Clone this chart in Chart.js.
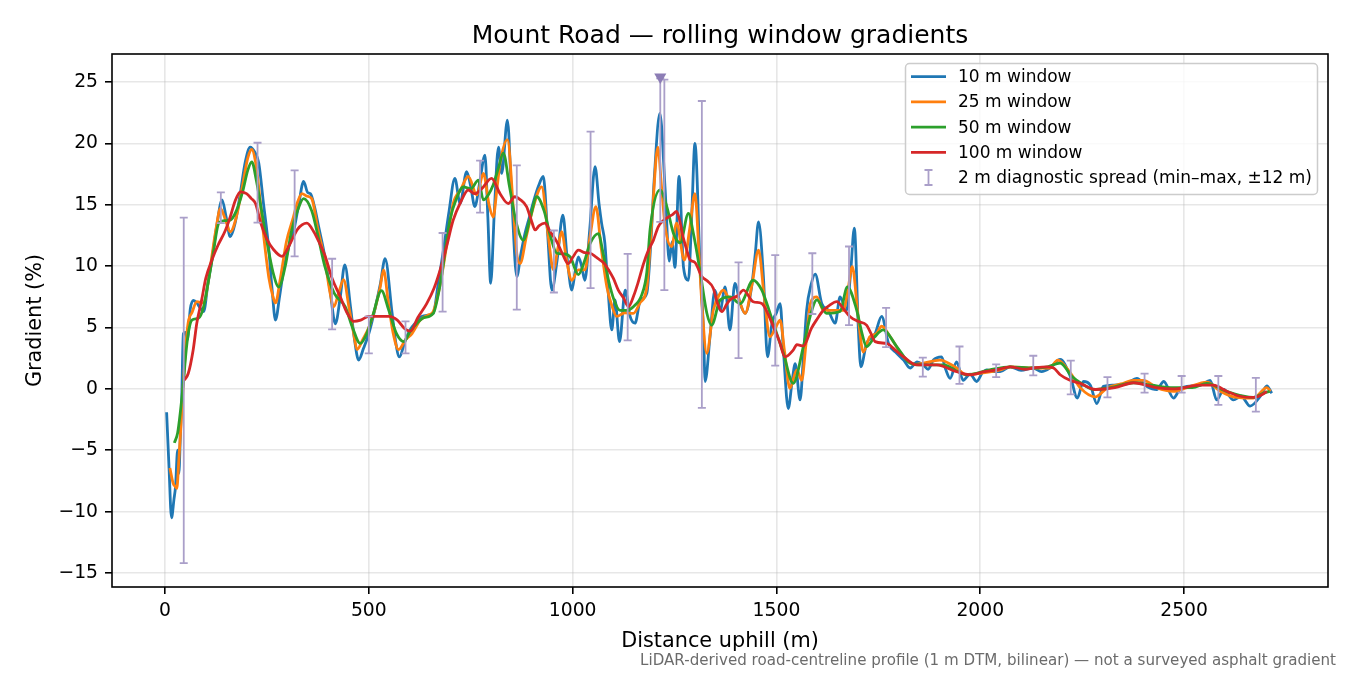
<!DOCTYPE html>
<html>
<head>
<meta charset="utf-8">
<title>Mount Road — rolling window gradients</title>
<script src="https://cdn.jsdelivr.net/npm/chart.js@4.4.1/dist/chart.umd.min.js"></script>
<style>
    body { margin: 0; background: #fff; }
    canvas { display: block; }
</style>
</head>
<body>
<canvas id="gradChart" width="1350" height="675"></canvas>
<script>
// ===== DATA =====
// distance uphill (m) and gradient (%) per rolling window
const dist10 = [4,10,16,22,26,31,34,38,41,45,50,55,62,70,78,86,95,105,115,128,140,150,160,172,185,197,209,220,230,242,254,263,271,281,291,303,316,328,340,350,357,367,377,392,405,418,430,441,455,465,475,487,500,515,528,540,557,566,575,588,601,615,630,645,658,670,683,697,711,724,740,750,760,772,785,792,799,808,818,826,840,850,863,873,883,894,904,916,928,938,949,962,976,987,998,1006,1014,1022,1030,1042,1055,1065,1071,1079,1087,1096,1104,1115,1129,1141,1153,1166,1182,1192,1200,1214,1227,1237,1244,1251,1261,1272,1284,1292,1300,1313,1321,1325,1337,1349,1362,1374,1386,1398,1411,1423,1439,1448,1456,1468,1478,1489,1500,1509,1517,1529,1538,1546,1558,1566,1574,1585,1595,1611,1627,1644,1656,1672,1682,1691,1701,1707,1721,1742,1758,1775,1795,1812,1828,1845,1860,1872,1885,1905,1915,1926,1942,1958,1975,1991,2005,2016,2030,2049,2073,2100,2130,2150,2171,2196,2221,2238,2253,2270,2286,2302,2327,2360,2384,2409,2433,2450,2474,2490,2507,2540,2564,2580,2597,2621,2640,2662,2687,2703,2715];
const grad10 = [-1.9,-6.5,-10.5,-9.0,-7.9,-5.0,-6.9,-3.5,-0.9,4.5,4.6,4.0,6.5,7.2,7.0,6.6,6.3,8.5,10.5,13.5,15.4,14.0,12.4,13.5,16.0,18.5,19.7,19.3,18.4,15.0,11.6,8.0,5.6,7.5,9.7,11.5,12.9,15.0,16.9,16.0,15.9,14.8,13.2,10.8,8.0,5.3,7.5,10.1,6.7,4.0,2.35,3.3,4.5,6.5,8.5,10.6,6.2,3.8,2.6,3.8,4.8,5.4,5.9,6.0,6.15,8.5,11.3,14.5,17.15,15.1,17.7,16.5,14.85,16.8,19.05,14.0,8.6,14.5,19.7,17.55,21.9,16.0,9.15,11.0,12.65,14.0,15.25,16.5,17.3,13.0,8.05,10.5,14.15,10.5,8.05,9.5,10.75,10.0,8.85,13.0,18.1,15.0,13.5,11.9,8.0,4.8,7.25,3.85,8.05,5.9,5.35,7.2,7.8,12.0,17.0,22.45,16.2,10.4,12.0,9.9,17.3,9.9,8.85,14.0,20.0,9.7,4.8,0.6,4.25,8.05,6.4,8.3,4.8,8.6,6.95,6.15,8.3,11.0,13.6,9.15,2.6,5.35,6.2,6.95,3.15,-1.6,0.5,2.05,-0.9,2.5,6.4,8.5,9.35,6.95,6.4,5.35,7.5,6.4,9.5,13.1,4.8,1.8,3.7,4.5,5.9,3.7,2.9,2.35,1.7,2.2,1.95,1.6,2.35,2.6,1.6,0.85,2.2,0.7,1.2,0.6,1.3,1.55,1.4,1.4,1.8,1.5,1.7,1.4,1.7,2.4,1.0,-0.75,0.6,0.3,-1.2,0.2,0.3,0.45,0.85,0.2,-0.05,0.6,-0.75,0.0,0.2,0.3,0.7,-0.9,-0.05,-0.9,-0.6,-1.4,-0.6,0.25,-0.35];

const dist25 = [12,20,25,29,34,40,45,53,58,66,78,95,105,115,125,136,148,160,175,190,203,213,222,230,242,255,265,271,283,298,315,325,336,348,360,375,392,404,414,426,438,452,463,471,485,500,515,528,536,548,560,573,590,606,626,645,658,675,690,707,725,744,765,781,795,805,815,822,840,855,863,871,887,904,924,940,953,964,973,985,998,1014,1030,1043,1057,1070,1084,1096,1108,1128,1149,1165,1182,1195,1209,1218,1227,1243,1255,1274,1287,1300,1310,1317,1329,1345,1362,1370,1386,1403,1423,1440,1456,1470,1484,1498,1509,1520,1533,1550,1562,1572,1583,1599,1615,1648,1664,1675,1686,1700,1713,1729,1745,1758,1779,1812,1840,1860,1901,1942,1966,2007,2049,2073,2130,2170,2190,2221,2245,2282,2312,2345,2376,2400,2433,2474,2507,2556,2589,2621,2670,2703,2712];
const grad25 = [-6.45,-7.7,-7.95,-8.1,-5.8,-2.5,0.45,4.25,5.6,6.2,7.1,7.0,8.5,10.8,13.0,14.7,13.8,12.8,14.0,16.5,18.8,19.5,18.5,16.4,12.5,9.0,7.5,7.0,9.0,12.0,14.0,15.2,15.9,15.7,15.5,13.0,10.5,8.0,6.7,7.8,8.9,6.5,4.5,3.2,4.0,5.0,6.5,8.3,9.7,7.0,4.5,3.2,4.0,4.5,5.6,6.0,6.3,8.5,11.5,15.1,16.2,17.3,15.8,17.55,15.0,14.0,16.5,18.4,20.3,14.5,11.0,10.2,12.5,14.85,16.45,12.5,9.7,11.5,12.8,10.5,8.85,9.7,9.7,12.5,14.85,11.5,8.3,6.8,5.9,6.2,6.15,7.0,8.3,14.0,19.7,16.5,13.2,11.6,13.5,10.5,13.0,15.9,11.0,6.95,2.9,6.4,7.8,8.05,7.3,7.5,6.15,8.5,11.3,7.5,4.25,5.0,5.6,3.0,0.05,1.55,0.7,3.5,6.95,7.5,6.4,6.4,6.4,8.0,9.95,6.0,3.0,4.25,4.5,5.1,4.25,2.6,2.0,2.1,2.35,1.7,1.15,1.3,1.55,1.8,1.7,1.7,2.35,1.3,0.1,-0.65,0.1,0.4,0.7,0.7,0.1,-0.2,0.1,0.55,-0.2,-0.65,-0.75,0.1,-0.2];

const dist50 = [23,31,38,45,51,57,66,82,94,105,118,132,146,160,175,190,203,213,224,234,250,265,279,295,310,325,340,360,375,392,415,442,460,479,495,510,531,548,568,586,600,618,635,658,675,699,715,732,750,769,781,793,805,818,830,845,862,879,895,912,930,945,961,978,994,1014,1030,1043,1063,1075,1088,1102,1116,1132,1149,1170,1182,1190,1214,1231,1247,1264,1284,1296,1313,1329,1341,1362,1386,1411,1443,1464,1478,1492,1517,1541,1566,1585,1599,1623,1656,1674,1697,1710,1721,1740,1762,1795,1828,1860,1909,1966,2023,2073,2130,2165,2196,2225,2250,2278,2320,2376,2420,2474,2520,2556,2600,2646,2670,2695,2710];
const grad50 = [-4.4,-3.6,-1.8,0.45,2.8,4.5,5.6,5.75,6.6,8.5,11.0,13.5,13.7,13.75,14.5,16.0,17.8,18.5,17.0,15.1,12.0,9.5,8.3,10.0,12.8,14.5,15.5,14.5,12.5,10.0,7.8,6.7,5.0,3.7,4.5,6.0,8.0,6.5,4.5,3.85,4.6,5.35,5.8,6.15,8.5,13.75,15.5,16.45,16.3,17.0,15.4,15.8,16.6,18.0,19.2,16.5,13.5,12.1,13.8,15.65,14.5,12.5,11.05,11.0,10.75,9.3,10.5,11.85,12.65,11.0,8.85,7.2,6.4,6.4,6.7,7.7,9.5,13.0,16.2,14.85,12.7,11.9,14.3,12.7,9.5,6.2,5.2,7.25,7.5,6.95,8.85,8.05,6.8,5.35,2.9,0.45,3.45,6.2,7.25,6.15,6.3,8.3,6.4,4.5,3.45,4.2,4.8,3.45,2.1,1.95,1.95,1.15,1.55,1.8,1.7,1.8,2.1,1.0,0.4,-0.05,0.1,0.5,0.3,0.1,0.1,0.45,-0.15,-0.6,-0.7,-0.35,-0.2];

const dist100 = [47,57,69,78,90,100,115,130,148,160,172,185,200,212,222,235,250,265,287,305,325,348,365,380,392,410,430,445,463,480,500,525,549,570,588,602,620,642,660,675,690,707,725,744,760,777,801,822,842,858,872,887,898,908,918,932,945,961,975,989,1000,1014,1030,1043,1055,1067,1078,1088,1100,1112,1125,1137,1150,1160,1174,1186,1198,1210,1222,1235,1245,1255,1262,1270,1280,1288,1300,1317,1330,1345,1355,1366,1378,1386,1405,1419,1443,1464,1478,1492,1507,1521,1541,1550,1566,1586,1600,1615,1630,1648,1665,1680,1700,1721,1732,1742,1770,1790,1812,1844,1893,1942,1975,2010,2040,2073,2110,2130,2163,2180,2196,2220,2245,2282,2330,2376,2433,2474,2540,2572,2605,2637,2670,2695,2703];
const grad100 = [0.7,1.25,3.15,5.35,7.25,9.0,10.5,11.7,12.9,14.0,15.3,16.05,15.9,15.5,15.1,13.5,12.2,11.4,10.8,11.7,13.0,13.5,12.8,11.8,10.9,9.0,7.5,6.3,5.5,5.6,5.9,5.9,5.9,5.6,4.9,4.7,5.8,6.95,8.2,9.7,11.5,13.75,15.2,16.2,15.9,16.3,17.15,15.9,15.1,15.65,15.4,14.85,13.8,12.95,13.3,13.5,12.8,12.0,11.0,10.2,10.7,11.3,11.1,11.05,10.8,10.5,10.2,9.7,9.0,8.05,7.4,6.7,7.6,8.6,10.2,11.3,12.1,13.2,13.7,14.0,14.2,14.45,13.8,12.5,11.3,10.5,10.3,9.15,8.8,8.2,7.0,6.3,6.9,7.25,7.6,8.05,7.1,6.95,6.2,5.1,3.9,2.6,3.15,3.6,3.5,4.95,5.7,6.4,6.8,7.1,6.5,5.9,5.5,5.2,4.5,3.85,3.7,3.2,2.6,1.95,1.95,1.4,1.15,1.4,1.55,1.8,1.6,1.7,1.8,1.7,1.15,0.7,0.45,-0.05,0.1,0.5,0.1,0.0,0.3,0.3,-0.2,-0.6,-0.7,-0.4,-0.2];

// 2 m diagnostic spread, min-max within +-12 m
const spreadX  = [46,137,227,318,410,500,590,681,773,863,954,1044,1135,1215,1225,1317,1407,1497,1588,1678,1769,1859,1949,2039,2130,2222,2312,2403,2494,2584,2676];
const spreadLo = [-14.2,13.5,13.55,10.8,4.85,2.9,2.9,6.3,14.35,6.45,7.85,8.2,3.95,13.6,8.05,-1.55,2.5,1.9,6.1,5.2,3.4,1.0,0.4,0.95,1.1,-0.45,-0.7,-0.3,-0.3,-1.3,-1.85];
const spreadHi = [13.95,16.0,20.05,17.8,10.6,5.9,5.5,12.7,18.6,18.2,12.9,20.95,11.0,25.3,25.2,23.45,10.3,10.9,11.05,11.6,6.6,2.55,3.45,2.0,2.7,2.3,0.95,1.25,1.05,1.05,0.9];

// steepest 10 m point marker
const steepX = [1215];
const steepY = [25.4];

const xTicks = [0, 500, 1000, 1500, 2000, 2500];
const yTicks = [-15, -10, -5, 0, 5, 10, 15, 20, 25];

const seriesLabels = ['10 m window', '25 m window', '50 m window', '100 m window'];
const spreadLabel = '2 m diagnostic spread (min\u2013max, \u00b112 m)';

// ===== STYLE =====
const FONT = "'DejaVu Sans', 'Liberation Sans', sans-serif";
const COLORS = ['#1f77b4', '#ff7f0e', '#2ca02c', '#d62728'];
const SPREAD_COLOR = '#aa9fc9';
const MARKER_COLOR = '#8c7db5';

function toPoints(xs, ys) {
    return xs.map((x, i) => ({ x: x, y: ys[i] }));
}

function lineDataset(label, xs, ys, color, order) {
    return {
        label: label,
        data: toPoints(xs, ys),
        borderColor: color,
        backgroundColor: color,
        borderWidth: 2.8,
        pointRadius: 0,
        cubicInterpolationMode: 'monotone',
        fill: false,
        order: order
    };
}

// ===== PLUGIN: error bars, frame, texts, legend =====
const decorPlugin = {
    id: 'decor',
    afterDatasetDraw(chart, args) {
        // draw spread bars right after the 100 m line (before the marker)
        if (args.index !== 3) return;
        const ctx = chart.ctx;
        const xs = chart.scales.x;
        const ys = chart.scales.y;
        const area = chart.chartArea;
        ctx.save();
        ctx.beginPath();
        ctx.rect(area.left, area.top, area.right - area.left, area.bottom - area.top);
        ctx.clip();
        ctx.strokeStyle = SPREAD_COLOR;
        ctx.lineWidth = 1.8;
        spreadX.forEach((d, i) => {
            const px = xs.getPixelForValue(d);
            const top = ys.getPixelForValue(spreadHi[i]);
            const bot = ys.getPixelForValue(spreadLo[i]);
            ctx.beginPath();
            ctx.moveTo(px, top);
            ctx.lineTo(px, bot);
            ctx.moveTo(px - 4, top);
            ctx.lineTo(px + 4, top);
            ctx.moveTo(px - 4, bot);
            ctx.lineTo(px + 4, bot);
            ctx.stroke();
        });
        ctx.restore();
    },
    afterDraw(chart) {
        const ctx = chart.ctx;
        const area = chart.chartArea;
        const midX = (area.left + area.right) / 2;
        ctx.save();

        // axes frame
        ctx.strokeStyle = '#000';
        ctx.lineWidth = 1.6;
        ctx.strokeRect(area.left, area.top, area.right - area.left, area.bottom - area.top);

        // title
        ctx.fillStyle = '#000';
        ctx.textAlign = 'center';
        ctx.textBaseline = 'alphabetic';
        ctx.font = '25px ' + FONT;
        ctx.fillText('Mount Road \u2014 rolling window gradients', midX, 43);

        // axis titles
        ctx.font = '20.8px ' + FONT;
        ctx.fillText('Distance uphill (m)', midX, 647);
        ctx.save();
        ctx.translate(41, (area.top + area.bottom) / 2);
        ctx.rotate(-Math.PI / 2);
        ctx.fillText('Gradient (%)', 0, 0);
        ctx.restore();

        // footnote
        ctx.font = '15.1px ' + FONT;
        ctx.fillStyle = '#6b6b6b';
        ctx.textAlign = 'right';
        ctx.fillText('LiDAR-derived road-centreline profile (1 m DTM, bilinear) \u2014 not a surveyed asphalt gradient', 1336, 665);

        drawLegend(ctx);
        ctx.restore();
    }
};

function drawLegend(ctx) {
    const boxX = 905.5, boxY = 63.5, boxW = 412, boxH = 131;
    ctx.save();
    ctx.beginPath();
    ctx.roundRect(boxX, boxY, boxW, boxH, 4);
    ctx.fillStyle = 'rgba(255,255,255,0.8)';
    ctx.fill();
    ctx.strokeStyle = '#cccccc';
    ctx.lineWidth = 1.5;
    ctx.stroke();

    const rowY = [76.7, 101.9, 127.1, 152.3, 177.5];
    ctx.font = '17px ' + FONT;
    ctx.textAlign = 'left';
    ctx.textBaseline = 'middle';
    seriesLabels.forEach((label, i) => {
        ctx.strokeStyle = COLORS[i];
        ctx.lineWidth = 2.8;
        ctx.beginPath();
        ctx.moveTo(911, rowY[i]);
        ctx.lineTo(946, rowY[i]);
        ctx.stroke();
        ctx.fillStyle = '#000';
        ctx.fillText(label, 958, rowY[i] + 1);
    });

    // error bar symbol
    const ey = rowY[4];
    ctx.strokeStyle = SPREAD_COLOR;
    ctx.lineWidth = 1.8;
    ctx.beginPath();
    ctx.moveTo(928.5, ey - 7.5);
    ctx.lineTo(928.5, ey + 7.5);
    ctx.moveTo(924.5, ey - 7.5);
    ctx.lineTo(932.5, ey - 7.5);
    ctx.moveTo(924.5, ey + 7.5);
    ctx.lineTo(932.5, ey + 7.5);
    ctx.stroke();
    ctx.fillStyle = '#000';
    ctx.fillText(spreadLabel, 958, ey + 1);
    ctx.restore();
}

// ===== CHART =====
function createGradientChart() {
    const canvas = document.getElementById('gradChart');
    if (!canvas) return;
    const ctx = canvas.getContext('2d');

    const tickFont = { family: FONT, size: 18.75 };
    const gridStyle = {
        color: 'rgba(176,176,176,0.3)',
        lineWidth: 1.6,
        drawTicks: true,
        tickLength: 7,
        tickColor: '#000',
        tickWidth: 1.6
    };

    new Chart(ctx, {
        type: 'line',
        data: {
            datasets: [
                lineDataset(seriesLabels[0], dist10, grad10, COLORS[0], 4),
                lineDataset(seriesLabels[1], dist25, grad25, COLORS[1], 3),
                lineDataset(seriesLabels[2], dist50, grad50, COLORS[2], 2),
                lineDataset(seriesLabels[3], dist100, grad100, COLORS[3], 1),
                {
                    type: 'scatter',
                    label: 'steepest',
                    data: toPoints(steepX, steepY),
                    pointStyle: 'triangle',
                    rotation: 180,
                    pointRadius: 7,
                    backgroundColor: MARKER_COLOR,
                    borderColor: MARKER_COLOR,
                    borderWidth: 0,
                    showLine: false,
                    clip: false,
                    order: 0
                }
            ]
        },
        options: {
            responsive: false,
            devicePixelRatio: 1,
            animation: false,
            layout: { padding: { left: 0, right: 22, top: 54, bottom: 0 } },
            plugins: {
                legend: { display: false },
                title: { display: false },
                tooltip: { enabled: false }
            },
            scales: {
                x: {
                    type: 'linear',
                    min: -130,
                    max: 2853,
                    afterBuildTicks: scale => { scale.ticks = xTicks.map(v => ({ value: v })); },
                    afterFit: scale => { scale.height = 88; },
                    grid: gridStyle,
                    border: { display: false },
                    ticks: {
                        font: tickFont,
                        color: '#000',
                        padding: 6,
                        maxRotation: 0,
                        callback: v => String(v)
                    }
                },
                y: {
                    type: 'linear',
                    min: -16.14,
                    max: 27.28,
                    afterBuildTicks: scale => { scale.ticks = yTicks.map(v => ({ value: v })); },
                    afterFit: scale => { scale.width = 112; },
                    grid: gridStyle,
                    border: { display: false },
                    ticks: {
                        font: tickFont,
                        color: '#000',
                        padding: 7,
                        callback: v => (v < 0 ? '\u2212' + Math.abs(v) : String(v))
                    }
                }
            }
        },
        plugins: [decorPlugin]
    });
}

document.addEventListener('DOMContentLoaded', function() {
    createGradientChart();
});
</script>
</body>
</html>
